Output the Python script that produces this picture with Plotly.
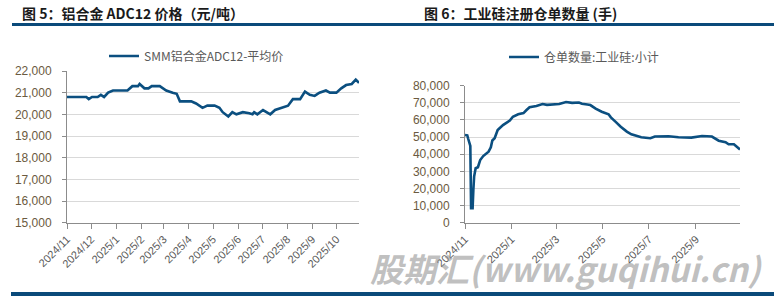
import plotly.graph_objects as go

# ---------------- data ----------------
adc12_dates = [
    "2024-11-01", "2024-11-25", "2024-11-28", "2024-12-02", "2024-12-09", "2024-12-13",
    "2024-12-17", "2024-12-22", "2024-12-28", "2025-01-15", "2025-01-21", "2025-01-28",
    "2025-01-30", "2025-02-05", "2025-02-10", "2025-02-14", "2025-02-24", "2025-03-04",
    "2025-03-12", "2025-03-17", "2025-03-21", "2025-04-04", "2025-04-10", "2025-04-18",
    "2025-04-24", "2025-05-03", "2025-05-09", "2025-05-13", "2025-05-20", "2025-05-25",
    "2025-05-30", "2025-06-07", "2025-06-15", "2025-06-19", "2025-06-21", "2025-06-25",
    "2025-07-02", "2025-07-11", "2025-07-17", "2025-07-25", "2025-08-02", "2025-08-08",
    "2025-08-17", "2025-08-23", "2025-08-29", "2025-09-04", "2025-09-10", "2025-09-18",
    "2025-09-23", "2025-10-01", "2025-10-07", "2025-10-13", "2025-10-20", "2025-10-25",
    "2025-10-29",
]
adc12_price = [
    20800, 20800, 20700, 20800, 20800, 20900,
    20800, 21000, 21100, 21100, 21300, 21300,
    21400, 21200, 21200, 21300, 21300, 21100,
    21000, 20950, 20600, 20600, 20500, 20300,
    20400, 20400, 20300, 20100, 19900, 20100,
    20000, 20100, 20050, 20000, 20100, 20000,
    20200, 20000, 20200, 20300, 20400, 20700,
    20700, 21050, 20900, 20850, 21000, 21100,
    21000, 21000, 21200, 21350, 21400, 21600,
    21450,
]

si_dates = [
    "2024-11-01", "2024-11-04", "2024-11-05", "2024-11-07", "2024-11-08", "2024-11-09",
    "2024-11-11", "2024-11-12", "2024-11-13", "2024-11-15", "2024-11-18", "2024-11-21",
    "2024-11-25", "2024-12-02", "2024-12-05", "2024-12-07", "2024-12-10", "2024-12-14",
    "2024-12-21", "2024-12-30", "2025-01-03", "2025-01-10", "2025-01-17", "2025-01-21",
    "2025-01-25", "2025-02-03", "2025-02-11", "2025-02-17", "2025-03-01", "2025-03-05",
    "2025-03-14", "2025-03-22", "2025-03-31", "2025-04-04", "2025-04-11", "2025-04-15",
    "2025-04-22", "2025-04-30", "2025-05-09", "2025-05-12", "2025-05-18", "2025-05-25",
    "2025-06-02", "2025-06-08", "2025-06-21", "2025-07-03", "2025-07-09", "2025-07-27",
    "2025-08-09", "2025-08-26", "2025-09-09", "2025-09-22", "2025-10-01", "2025-10-10",
    "2025-10-14", "2025-10-21", "2025-10-29",
]
si_receipts = [
    51200, 51000, 49300, 46400, 44800, 8400,
    8400, 19100, 26900, 31800, 32400, 36600,
    38900, 41500, 44000, 48000, 49300, 54100,
    57000, 59600, 61900, 63300, 64000, 65800,
    67400, 68200, 69300, 68800, 69000, 69300,
    70500, 70000, 70200, 69500, 69000, 68700,
    66600, 64800, 63300, 61500, 59000, 56000,
    53200, 51600, 49900, 49300, 50300, 50500,
    49900, 49700, 50600, 50300, 47900, 47000,
    45800, 45800, 42800,
]

title_left = "图 5：铝合金 ADC12 价格（元/吨）"
title_right = "图 6：工业硅注册仓单数量 (手)"
name_left = "SMM铝合金ADC12-平均价"
name_right = "仓单数量:工业硅:小计"
watermark = "股期汇(www.guqihui.cn)"

# ---------------- styling ----------------
W, H = 774, 301
LINE_COLOR = "#0b4f80"
BAR_COLOR = "#0a4a7a"
GRID = "#d9d9d9"
AXIS = "#8c8c8c"
YLAB = "#6b5a40"
XLAB = "#595959"
FONT = "Liberation Sans, Noto Sans CJK SC, sans-serif"
CJK = "Noto Sans CJK SC, sans-serif"


def px(x):
    return x / W


def py(y):
    return 1 - y / H


fig = go.Figure()
fig.add_trace(go.Scatter(x=adc12_dates, y=adc12_price, mode="lines", name=name_left,
                         line=dict(color=LINE_COLOR, width=2.6), xaxis="x", yaxis="y",
                         legend="legend"))
fig.add_trace(go.Scatter(x=si_dates, y=si_receipts, mode="lines", name=name_right,
                         line=dict(color=LINE_COLOR, width=2.6), xaxis="x2", yaxis="y2",
                         legend="legend2"))

common_x = dict(type="date", showgrid=False, showline=True, linecolor=AXIS, linewidth=1,
                ticks="outside", ticklen=5, tickcolor=AXIS, tickangle=-45,
                tickformat="%Y/%-m", tickfont=dict(family=FONT, size=11, color=XLAB),
                zeroline=False, fixedrange=True, automargin=False)
common_y = dict(showgrid=True, gridcolor=GRID, gridwidth=1.3, showline=True, linecolor=AXIS,
                linewidth=1, ticks="outside", ticklen=4, tickcolor=AXIS, tickformat=",",
                tickfont=dict(family=FONT, size=12, color=YLAB), zeroline=False,
                ticklabelstandoff=8, fixedrange=True, automargin=False)

fig.update_layout(
    width=W, height=H,
    margin=dict(l=0, r=0, t=0, b=0, autoexpand=False),
    paper_bgcolor="white", plot_bgcolor="white",
    xaxis=dict(common_x, domain=[px(67), px(359)], anchor="y",
               range=["2024-11-01", "2025-10-29"], tick0="2024-11-01", dtick="M1"),
    yaxis=dict(common_y, domain=[py(222.7), py(71)], anchor="x",
               range=[15000, 22000], dtick=1000),
    xaxis2=dict(common_x, domain=[px(465), px(740)], anchor="y2",
                range=["2024-11-01", "2025-10-29"], tick0="2024-11-01", dtick="M2"),
    yaxis2=dict(common_y, domain=[py(222.7), py(85.7)], anchor="x2",
                range=[0, 80000], dtick=10000),
    legend=dict(x=px(104), y=py(56), xanchor="left", yanchor="middle", orientation="h",
                bgcolor="rgba(0,0,0,0)", itemwidth=30,
                font=dict(family=CJK, size=12, color=XLAB)),
    legend2=dict(x=px(504), y=py(57), xanchor="left", yanchor="middle", orientation="h",
                 bgcolor="rgba(0,0,0,0)", itemwidth=30,
                 font=dict(family=CJK, size=12, color=XLAB)),
    showlegend=True,
)

# header / footer bars
shapes = [
    dict(type="rect", xref="paper", yref="paper", x0=px(12), x1=1, y0=py(26), y1=py(23),
         fillcolor=BAR_COLOR, line=dict(width=0), layer="above"),
    dict(type="rect", xref="paper", yref="paper", x0=px(11), x1=1, y0=py(296), y1=py(292),
         fillcolor=BAR_COLOR, line=dict(width=0), layer="above"),
]
fig.update_layout(shapes=shapes)

annotations = [
    dict(text="<b>" + title_left + "</b>", x=px(20), y=py(13), xref="paper", yref="paper",
         xanchor="left", yanchor="middle", showarrow=False,
         font=dict(family=CJK, size=14, color="#1a1a1a")),
    dict(text="<b>" + title_right + "</b>", x=px(422), y=py(13), xref="paper", yref="paper",
         xanchor="left", yanchor="middle", showarrow=False,
         font=dict(family=CJK, size=14, color="#1a1a1a")),
    dict(text="<b><i>" + watermark + "</i></b>", x=px(566), y=py(268), xref="paper",
         yref="paper", xanchor="center", yanchor="middle", showarrow=False,
         font=dict(family=CJK, size=33, color="rgba(150,150,150,0.6)")),
]
fig.update_layout(annotations=annotations)

fig.write_html("out.html")
